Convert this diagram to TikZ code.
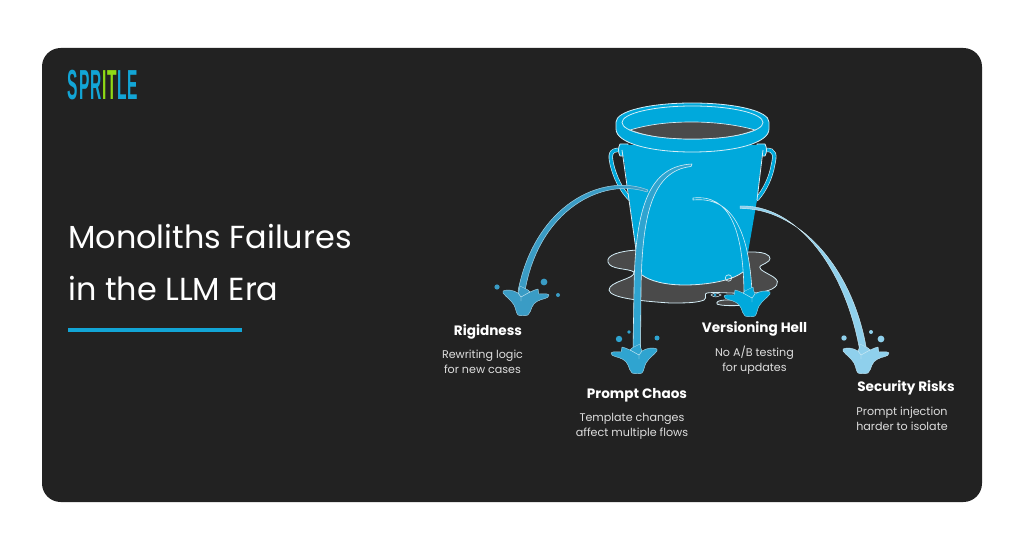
\documentclass[tikz,border=0pt]{standalone}
\usepackage{fontspec}
\setmainfont{Poppins}
\newfontfamily\logofont[LetterSpace=8]{Liberation Sans}
\definecolor{panel}{HTML}{222222}
\definecolor{pool}{HTML}{4A4A4A}
\definecolor{bucket}{HTML}{00A9DC}
\definecolor{edge}{HTML}{D5EEF7}
\definecolor{streamA}{HTML}{3A9CC5}
\definecolor{streamB}{HTML}{2FA4D0}
\definecolor{streamD}{HTML}{8FD0EC}
\definecolor{logoblue}{HTML}{12A5D6}
\definecolor{logogreen}{HTML}{8FD916}
\definecolor{bodytext}{HTML}{DEDEDE}
\tikzset{
  outlined/.style={draw=edge,line width=0.6pt,line join=round},
  head/.style={font=\fontsize{10.2}{12}\selectfont\bfseries,text=white,inner sep=0pt,anchor=center},
  body/.style={font=\fontsize{8.35}{11.2}\selectfont,text=bodytext,inner sep=0pt,align=center,anchor=center},
  titletext/.style={font=\fontsize{23.9}{30}\selectfont,text=white,inner sep=0pt,anchor=west},
}
\newcommand{\splashat}[4]{%
  \begin{scope}[shift={(#1,#2)},xscale=#3]
    \path[fill=#4,draw=edge!70!#4,line width=0.3pt,line join=round]
      (-20,-25) .. controls (-16,-27) and (-10,-26) .. (-5,-23)
      .. controls (-4,-25) and (-3,-28) .. (-3,-30) -- (5,-26) -- (7,-24)
      .. controls (10,-25) and (13,-27) .. (15,-27)
      .. controls (16,-25) and (15,-23) .. (16,-22)
      .. controls (20,-22) and (24,-23) .. (26,-21)
      .. controls (26,-19) and (24,-18) .. (22,-17.5)
      .. controls (16,-16) and (11,-14) .. (9,-9)
      .. controls (8,-6) and (7,-3) .. (5,-1)
      .. controls (2,0) and (-3,0) .. (-5,-1)
      .. controls (-7,-3) and (-7,-7) .. (-9,-11)
      .. controls (-12,-16) and (-17,-19) .. (-20,-23) -- cycle;
    \draw[edge,line width=0.3pt] (-5,-23) -- (-2,-19) -- (7,-24) (-2,-19) -- (-2,-15);
  \end{scope}}
\begin{document}
\begin{tikzpicture}[x=0.75pt,y=-0.75pt]
\useasboundingbox (0,0) rectangle (1024,538);
\fill[white] (0,0) rectangle (1024,538);
\fill[panel,rounded corners=14pt] (42,48) rectangle (982,502);

% logo
\node[inner sep=0pt,anchor=center] (logo) at (103,85.5) {\resizebox{53pt}{22pt}{\logofont\bfseries\textcolor{logoblue}{SPR}\textcolor{logogreen}{IT}\textcolor{logoblue}{LE}}};

% title
\node[titletext] (t1) at (68,237) {Monoliths Failures};
\node[titletext] (t2) at (68,289) {in the LLM Era};
\draw[logoblue,line width=2.4pt] (68,330) -- (242,330);

% pool
\path[fill=pool,outlined]
  (637,250) .. controls (620,251) and (606,255) .. (608,262)
  .. controls (610,270) and (628,268) .. (634,272)
  .. controls (636,279) and (609,281) .. (609,290)
  .. controls (610,298) and (640,301) .. (670,303)
  .. controls (685,303) and (697,303) .. (704,300)
  .. controls (708,297) and (703,294) .. (707,293)
  .. controls (720,291) and (755,297) .. (772,289)
  .. controls (781,284) and (778,279) .. (770,275)
  .. controls (763,271) and (756,268) .. (762,265)
  .. controls (768,262) and (772,260) .. (769,256)
  .. controls (765,252) and (757,252) .. (750,252) -- cycle;
\path[fill=pool,outlined] (727,300) .. controls (718,300) and (716,302) .. (717,304)
  .. controls (721,306) and (736,306) .. (745,305) -- (745,300) -- cycle;
\path[draw=edge,line width=0.4pt] (711,295) .. controls (714,292) and (718,293) .. (721,295) .. controls (718,297) and (714,298) .. (711,295) -- cycle;
\fill[streamB] (715,295) circle (1.6);

% handles
\draw[edge,line width=3.2pt,line cap=round] (621,150) .. controls (609,149) and (610,156) .. (612,165) .. controls (615,177) and (621,190) .. (630,199);
\draw[bucket,line width=2.3pt,line cap=round] (621,150) .. controls (609,149) and (610,156) .. (612,165) .. controls (615,177) and (621,190) .. (630,199);
\draw[edge,line width=3.2pt,line cap=round] (765,150) .. controls (776,149) and (775,156) .. (773,165) .. controls (771,177) and (765,190) .. (757,199);
\draw[bucket,line width=2.3pt,line cap=round] (765,150) .. controls (776,149) and (775,156) .. (773,165) .. controls (771,177) and (765,190) .. (757,199);

% lugs
\path[fill=bucket,outlined] (620,144) .. controls (618,148) and (618,152) .. (620,156) -- (628,156) -- (628,144) -- cycle;
\path[fill=bucket,outlined] (765,144) .. controls (767,148) and (767,152) .. (765,156) -- (757,156) -- (757,144) -- cycle;

% bucket body
\path[fill=bucket] (622,145) -- (763,145) -- (757,200) -- (745,270)
  .. controls (735,281) and (700,285) .. (685,285)
  .. controls (665,285) and (650,281) .. (642,275) -- (636,250) -- cycle;
\draw[edge,line width=0.6pt] (622,150) -- (636,250) -- (641,274);
\draw[edge,line width=0.6pt] (763,150) -- (757,200);
\draw[edge,line width=0.6pt] (642,275) .. controls (650,281) and (665,285) .. (685,285) .. controls (705,285) and (735,281) .. (745,270);

% rim
\path[fill=bucket,outlined] (616,122) .. controls (616,111) and (650,103) .. (692,103)
  .. controls (735,103) and (769,111) .. (769,122)
  -- (769,129) .. controls (769,143) and (735,152) .. (692,152)
  .. controls (650,152) and (616,143) .. (616,129) -- cycle;
\path[draw=edge,line width=0.6pt] (692.5,122.5) ellipse [x radius=70.5,y radius=16.5];
\path[fill=pool,draw=edge,line width=0.5pt] (630,130) .. controls (650,124) and (670,122) .. (692,122)
  .. controls (715,122) and (738,125) .. (755,130)
  .. controls (738,137) and (715,139) .. (692,139)
  .. controls (670,139) and (648,137) .. (630,130) -- cycle;

% ring on the bucket
\draw[edge,line width=0.5pt] (728.5,278) circle (3.2);

% Rigidness stream
\path[fill=streamA,draw=edge!70!streamA,line width=0.35pt,line join=round] (648,190)
  .. controls (602,172) and (535,205) .. (518,291) -- (525,291)
  .. controls (539,210) and (602,177) .. (647,192) -- cycle;
\splashat{523}{316}{1}{streamA}
\fill[streamA] (497,287) circle (2.6) (544,282) circle (3.4) (558,295) circle (2);

% Prompt Chaos stream
\path[fill=streamB,outlined,line width=0.45pt] (692,164)
  .. controls (650,166) and (635,205) .. (634,290) -- (633,350) -- (640.5,350) -- (641,290)
  .. controls (642,215) and (652,171) .. (691,166.5) -- cycle;
\splashat{637}{374}{-1}{streamB}
\fill[streamB] (619,339) circle (3.2) (629,332) circle (1.9) (657,338) circle (2.5);

% Versioning Hell stream
\path[fill=bucket,outlined,line width=0.45pt] (693,198)
  .. controls (730,194) and (743,230) .. (744,292) -- (752,292)
  .. controls (749,232) and (733,196) .. (693,200) -- cycle;
\splashat{750}{317}{-1}{bucket}

% Security Risks stream
\path[fill=streamD,draw=edge,line width=0.3pt] (740,206)
  .. controls (795,204) and (845,265) .. (860,352) -- (867,352)
  .. controls (853,265) and (797,208) .. (740,208.5) -- cycle;
\splashat{863}{374}{1}{streamD}
\fill[streamD] (844,338) circle (2.7) (871,332) circle (2) (881,339) circle (3.4);

% labels
\node[head] (h1) at (488,332) {Rigidness};
\node[body] (b1) at (482.5,362) {Rewriting logic\\for new cases};
\node[head] (h2) at (637,395) {Prompt Chaos};
\node[body] (b2) at (632,426) {Template changes\\affect multiple flows};
\node[head] (h3) at (754.5,329) {Versioning Hell};
\node[body] (b3) at (754.5,360) {No A/B testing\\for updates};
\node[head] (h4) at (906,388) {Security Risks};
\node[body] (b4) at (902,419) {Prompt injection\\harder to isolate};
\end{tikzpicture}
\end{document}
